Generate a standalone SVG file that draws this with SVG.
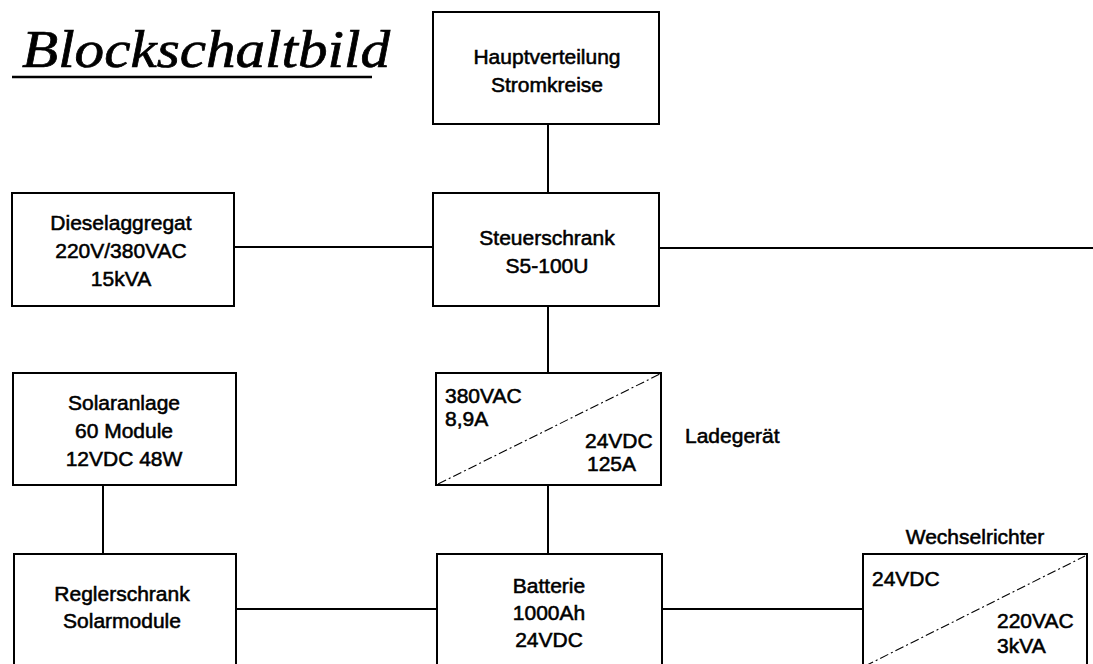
<svg xmlns="http://www.w3.org/2000/svg" width="1093" height="664" viewBox="0 0 1093 664">
<style>
.box{fill:#fff;stroke:#000;stroke-width:2}
.wire{stroke:#000;stroke-width:2;fill:none}
.diag{stroke:#000;stroke-width:1.1;fill:none;stroke-dasharray:9 3 2 3}
.t{font-family:"Liberation Sans",Arial,sans-serif;font-size:21px;fill:#000;stroke:#000;stroke-width:0.55}
.c{text-anchor:middle}
.title{font-family:"Liberation Serif","Times New Roman",serif;font-style:italic;font-size:52px;fill:#000;stroke:#000;stroke-width:0.7}
</style>
<rect width="1093" height="664" fill="#fff"/>
<g id="title">
<text class="title" x="22" y="67" textLength="368" lengthAdjust="spacingAndGlyphs">Blockschaltbild</text>
<line x1="12" y1="77" x2="372" y2="77" stroke="#000" stroke-width="2.5"/>
</g>
<g id="connectors">
<line class="wire" x1="548" y1="124" x2="548" y2="193"/>
<line class="wire" x1="234" y1="247" x2="433" y2="247"/>
<line class="wire" x1="659" y1="248" x2="1093" y2="248"/>
<line class="wire" x1="548" y1="306" x2="548" y2="373"/>
<line class="wire" x1="548" y1="485" x2="548" y2="554"/>
<line class="wire" x1="103" y1="485" x2="103" y2="554"/>
<line class="wire" x1="236" y1="609" x2="437" y2="609"/>
<line class="wire" x1="662" y1="609" x2="863" y2="609"/>
</g>
<g id="hauptverteilung">
<rect class="box" x="433" y="12" width="226" height="112"/>
<text class="t c" x="547" y="64">Hauptverteilung</text>
<text class="t c" x="547" y="92">Stromkreise</text>
</g>
<g id="steuerschrank">
<rect class="box" x="433" y="193" width="226" height="113"/>
<text class="t c" x="547" y="245">Steuerschrank</text>
<text class="t c" x="547" y="273">S5-100U</text>
</g>
<g id="dieselaggregat">
<rect class="box" x="12" y="193" width="222" height="113"/>
<text class="t c" x="121" y="230">Dieselaggregat</text>
<text class="t c" x="121" y="258">220V/380VAC</text>
<text class="t c" x="121" y="286">15kVA</text>
</g>
<g id="solaranlage">
<rect class="box" x="13" y="373" width="223" height="112"/>
<text class="t c" x="124" y="410">Solaranlage</text>
<text class="t c" x="124" y="438">60 Module</text>
<text class="t c" x="124" y="466">12VDC 48W</text>
</g>
<g id="ladegeraet">
<rect class="box" x="436" y="373" width="225" height="112"/>
<line class="diag" x1="438" y1="484" x2="660" y2="374"/>
<text class="t" x="445" y="403">380VAC</text>
<text class="t" x="445" y="426">8,9A</text>
<text class="t" x="585" y="448">24VDC</text>
<text class="t" x="587" y="471">125A</text>
<text class="t" x="685" y="443">Ladegerät</text>
</g>
<g id="reglerschrank">
<rect class="box" x="14" y="554" width="222" height="114"/>
<text class="t c" x="122" y="601">Reglerschrank</text>
<text class="t c" x="122" y="628">Solarmodule</text>
</g>
<g id="batterie">
<rect class="box" x="437" y="554" width="225" height="114"/>
<text class="t c" x="549" y="593">Batterie</text>
<text class="t c" x="549" y="620">1000Ah</text>
<text class="t c" x="549" y="647">24VDC</text>
</g>
<g id="wechselrichter">
<rect class="box" x="863" y="554" width="224" height="114"/>
<line class="diag" x1="865" y1="666" x2="1085" y2="556"/>
<text class="t c" x="975" y="544">Wechselrichter</text>
<text class="t" x="872" y="586">24VDC</text>
<text class="t" x="997" y="628">220VAC</text>
<text class="t" x="997" y="653">3kVA</text>
</g>
</svg>
